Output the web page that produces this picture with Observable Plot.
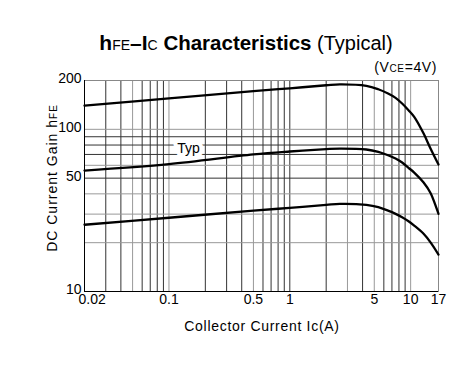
<!DOCTYPE html>
<html><head><meta charset="utf-8">
<script src="https://cdn.jsdelivr.net/npm/d3@7"></script>
<script src="https://cdn.jsdelivr.net/npm/@observablehq/plot@0.6"></script>
<style>body{margin:0;background:#fff;font-family:"Liberation Sans",Arial,sans-serif}</style>
</head><body><div id="chart"></div>
<script>
// Data
const currents = [0.02, 0.1, 0.5, 1, 2, 2.6, 4.3, 5.4, 6.5, 7.5, 8.5, 9.6, 10.7, 12.8, 14.6, 17];
const hfeMax = [140, 155, 172, 179, 187, 189.5, 185.5, 176.7, 166.3, 156.4, 144.3, 131.2, 119.4, 94.2, 76.1, 60.6];
const hfeTyp = [55.7, 61, 70, 73, 75.5, 76.1, 75.1, 72.6, 69.2, 66, 62.4, 57.9, 54.1, 47, 40.5, 30.1];
const hfeMin = [25.8, 28.5, 31.5, 32.8, 34.2, 34.7, 34.2, 33.1, 31.5, 30.1, 28.7, 27.1, 25.5, 22.7, 20.1, 16.9];
const xTicks = [0.02, 0.1, 0.5, 1, 5, 10, 17];
const yTicks = [10, 50, 100, 200];
const xGridDark = [0.03,0.04,0.06,0.07,0.08,0.09,0.2,0.3,0.4,0.6,0.7,0.8,0.9,1,2,4,6,7,8,9];
const xGridLight = [0.05,0.1,0.5,3,5,10];
const yGridDark = [50,70,80,90];
const yGridLight = [20,30,40,60,100];
const typLabel = [{x: 0.145, y: 76, text: "Typ"}];

const rows = [];
currents.forEach((c, i) => {
  rows.push({I: c, h: hfeMax[i], s: "max"});
  rows.push({I: c, h: hfeTyp[i], s: "typ"});
  rows.push({I: c, h: hfeMin[i], s: "min"});
});

const W = 462, H = 369;
const tickStyle = {frameAnchor: "bottom", lineAnchor: "top", dy: 3, fontSize: 14, fill: "#000", letterSpacing: 0.8};
const chart = Plot.plot({
  width: W, height: H,
  marginLeft: 84, marginRight: 24, marginTop: 80, marginBottom: 78,
  style: {fontFamily: '"Liberation Sans", Arial, sans-serif', fontSize: "14px", color: "#000", background: "#fff"},
  x: {type: "log", domain: [0.02, 17], axis: null},
  y: {type: "log", domain: [10, 200], axis: null},
  marks: [
    Plot.ruleX(xGridLight, {stroke: "#999", strokeWidth: 1}),
    Plot.ruleX(xGridDark, {stroke: "#333", strokeWidth: 1}),
    Plot.ruleY(yGridLight, {stroke: "#999", strokeWidth: 1}),
    Plot.ruleY(yGridDark, {stroke: "#333", strokeWidth: 1}),
    Plot.frame({stroke: "#888"}),
    Plot.ruleX([0.02], {stroke: "#000"}),
    Plot.ruleY([10], {stroke: "#000"}),
    Plot.text(typLabel, {x: "x", y: "y", text: "text", fontSize: 14, fill: "#000", stroke: "white", strokeWidth: 8, textAnchor: "middle", letterSpacing: 1}),
    Plot.line(rows, {x: "I", y: "h", z: "s", stroke: "#000", strokeWidth: 2.3, curve: "catmull-rom"}),
    Plot.text(xTicks.slice(0, 1), {x: d => d, text: d => String(d), textAnchor: "start", dx: -6, ...tickStyle}),
    Plot.text(xTicks.slice(1), {x: d => d, text: d => String(d), ...tickStyle}),
    Plot.text(yTicks, {y: d => d, text: d => String(d), frameAnchor: "left", textAnchor: "end", dx: -3, dy: -2, fontSize: 14, fill: "#000", letterSpacing: 0.8})
  ]
});
document.getElementById("chart").appendChild(chart);

const svg = d3.select(chart);
const font = '"Liberation Sans", Arial, sans-serif';
// Title
const t = svg.append("text").attr("x", 246).attr("y", 50).attr("text-anchor", "middle")
  .attr("font-family", font).attr("fill", "#000");
t.append("tspan").attr("font-size", 21).attr("font-weight", "bold").text("h");
t.append("tspan").attr("font-size", 14).text("FE");
t.append("tspan").attr("font-size", 21).attr("font-weight", "bold").text("–I");
t.append("tspan").attr("font-size", 14).text("C");
t.append("tspan").attr("font-size", 20.5).attr("font-weight", "bold").text(" Characteristics");
t.append("tspan").attr("font-size", 20).text(" (Typical)");
// Condition
const v = svg.append("text").attr("x", 437).attr("y", 72).attr("text-anchor", "end")
  .attr("font-family", font).attr("font-size", 14).attr("fill", "#000").attr("letter-spacing", 0.6);
v.append("tspan").text("(V");
v.append("tspan").attr("font-size", 10).text("CE");
v.append("tspan").text("=4V)");
// X label
svg.append("text").attr("x", 262).attr("y", 331).attr("text-anchor", "middle")
  .attr("font-family", font).attr("font-size", 14).attr("fill", "#000").attr("letter-spacing", 0.7)
  .text("Collector Current Ic(A)");
// Y label
const yl = svg.append("text").attr("transform", "translate(57,178) rotate(-90)").attr("text-anchor", "middle")
  .attr("font-family", font).attr("font-size", 14).attr("fill", "#000").attr("letter-spacing", 1);
yl.append("tspan").text("DC Current Gain h");
yl.append("tspan").attr("font-size", 10).text("FE");
</script></body></html>
